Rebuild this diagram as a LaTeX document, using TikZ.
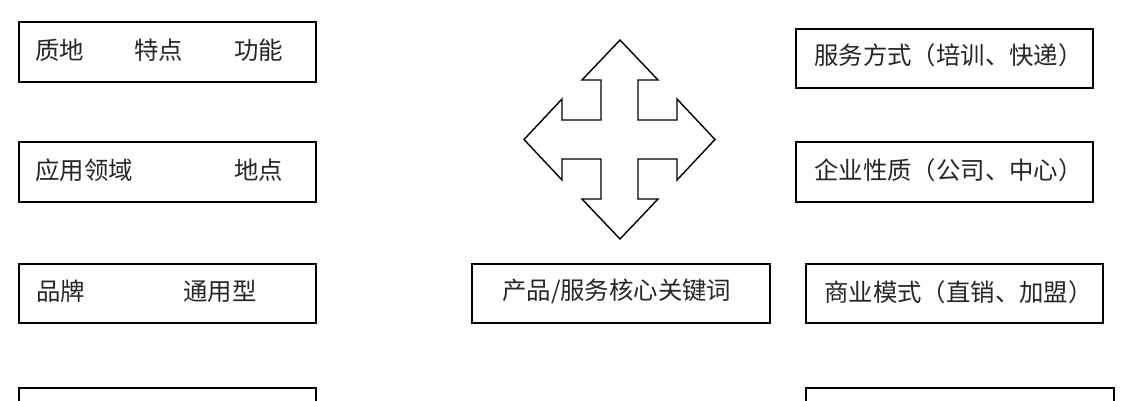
\documentclass[tikz,border=0pt]{standalone}
\usepackage{fontspec}
\newfontfamily\cjk{Noto Sans CJK SC}
\begin{document}
\begin{tikzpicture}[x=1pt,y=-1pt,
  box/.style={draw=black,line width=1.5pt,inner sep=0pt,anchor=north west},
  lbl/.style={inner sep=0pt,anchor=west,font=\cjk\fontsize{24.4}{26}\selectfont,text=black!85},
  cross/.style={draw=black,line width=1.4pt,line join=miter,fill=white}]
\useasboundingbox (0,0) rectangle (1133,400);
\clip (0,0) rectangle (1133,400);
\fill[white] (0,0) rectangle (1133,400);
% left column
\node[box,minimum width=297pt,minimum height=60pt] (b1) at (18,21) {};
\node[box,minimum width=297pt,minimum height=60pt] (b2) at (18,141) {};
\node[box,minimum width=297pt,minimum height=59pt] (b3) at (18,263) {};
\node[box,minimum width=297pt,minimum height=60pt] (b4) at (18,387) {};
% centre
\node[box,minimum width=298pt,minimum height=59pt] (bc) at (471,263) {};
% right column
\node[box,minimum width=297pt,minimum height=59pt] (r1) at (795,28) {};
\node[box,minimum width=297pt,minimum height=60pt] (r2) at (795,141) {};
\node[box,minimum width=297pt,minimum height=59pt] (r3) at (805,263) {};
\node[box,minimum width=308pt,minimum height=60pt] (r4) at (805,387) {};
% texts
\node[lbl] (t11) at (35,50) {质地};
\node[lbl] (t12) at (134,50) {特点};
\node[lbl] (t13) at (234,50) {功能};
\node[lbl] (t21) at (35,170) {应用领域};
\node[lbl] (t22) at (234,170) {地点};
\node[lbl] (t31) at (36,291) {品牌};
\node[lbl] (t32) at (183,291) {通用型};
\node[lbl] (tc) at (502,291) {产品/服务核心关键词};
\node[lbl] (tr1) at (814,55) {服务方式（培训、快递）};
\node[lbl] (tr2) at (814,170) {企业性质（公司、中心）};
\node[lbl] (tr3) at (824,292) {商业模式（直销、加盟）};
% four-way arrow
\draw[cross] (620,40) -- (658,80) -- (638,80) -- (638,120) -- (677,120) -- (677,99)
  -- (715,139.5) -- (677,180) -- (677,159) -- (638,159) -- (638,199) -- (658,199)
  -- (620,239) -- (582,199) -- (601,199) -- (601,159) -- (562,159) -- (562,180)
  -- (524,139.5) -- (562,99) -- (562,120) -- (601,120) -- (601,80) -- (582,80) -- cycle;
\end{tikzpicture}
\end{document}
